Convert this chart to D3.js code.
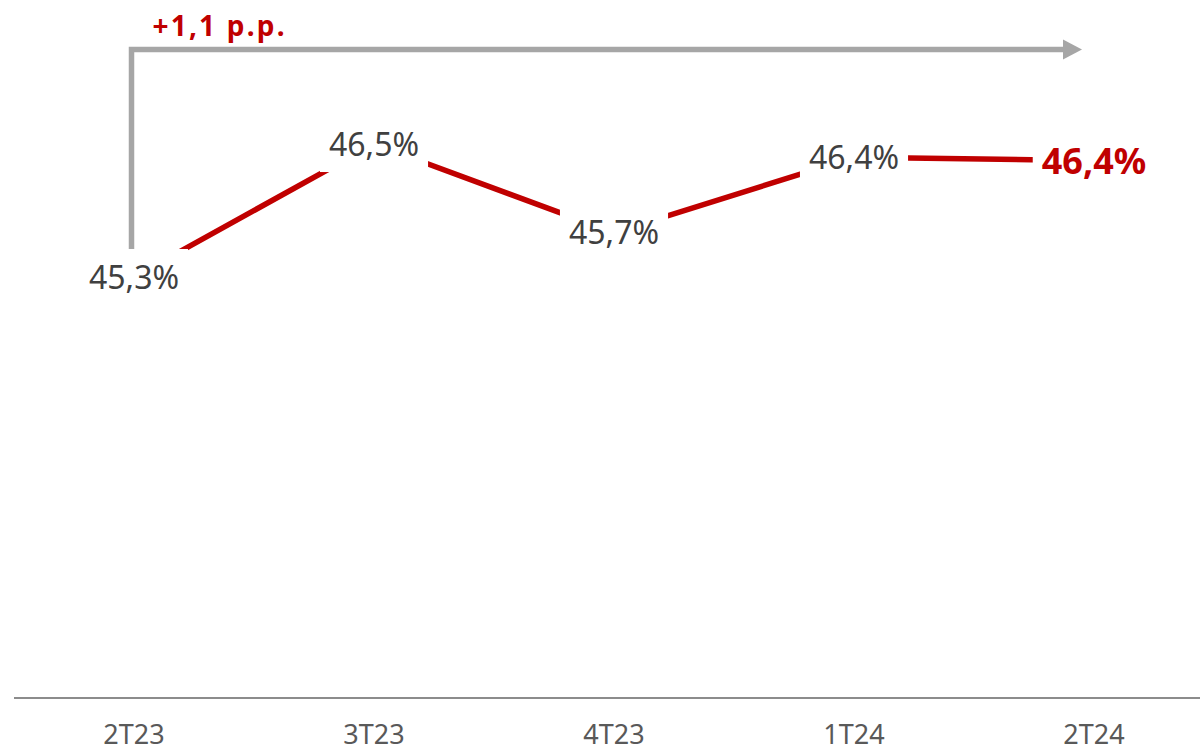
<!DOCTYPE html>
<html>
<head>
<meta charset="utf-8">
<script src="https://cdn.jsdelivr.net/npm/d3@7"></script>
<style>
  html, body { margin: 0; padding: 0; background: #fff; }
  svg { display: block; }
</style>
</head>
<body>
<svg id="chart" width="1200" height="753"></svg>
<script>
const categories = ["2T23", "3T23", "4T23", "1T24", "2T24"];
const values = [45.3, 46.5, 45.7, 46.38, 46.35];
const labels = ["45,3%", "46,5%", "45,7%", "46,4%", "46,4%"];
const deltaLabel = "+1,1 p.p.";

const W = 1200, H = 753;
const baseY = 698;
const svg = d3.select("#chart");

const x = d3.scaleBand().domain(categories).range([14, 1214]).paddingInner(0).paddingOuter(0);
const cx = d => x(d) + x.bandwidth() / 2;
const y = d3.scaleLinear().domain([41.5, 47.8]).range([baseY, 0]);

// axis
const axis = d3.axisBottom(x).tickSize(0).tickPadding(0);
const gAxis = svg.append("g").attr("transform", `translate(0,${baseY})`).call(axis);
gAxis.select(".domain").attr("stroke", "#8c8c8c").attr("stroke-width", 2)
  .attr("d", `M14,0H1200`);
gAxis.selectAll(".tick text")
  .attr("y", 46).attr("dy", 0)
  .attr("font-family", "'Noto Sans', sans-serif")
  .attr("font-size", 27)
  .attr("fill", "#595959");

// annotation bracket arrow
const ax0 = cx(categories[0]) - 2.5;
const ax1 = cx(categories[categories.length - 1]) - 31;
const topY = 49.5;
svg.append("path")
  .attr("d", `M${ax0},${y(values[0])}V${topY}H${ax1}`)
  .attr("fill", "none").attr("stroke", "#a6a6a6").attr("stroke-width", 5.5);
svg.append("path")
  .attr("d", `M${ax1},${topY - 10}L${ax1 + 19},${topY}L${ax1},${topY + 10}Z`)
  .attr("fill", "#a6a6a6");
svg.append("text")
  .attr("x", ax0 + 21).attr("y", 36)
  .attr("font-family", "'Noto Sans', sans-serif")
  .attr("font-weight", "bold")
  .attr("font-size", 28)
  .attr("fill", "#c00000")
  .attr("textLength", 132).attr("lengthAdjust", "spacing")
  .text(deltaLabel);

// line
const line = d3.line().x((d, i) => cx(categories[i])).y(d => y(d));
svg.append("path").datum(values)
  .attr("d", line)
  .attr("fill", "none").attr("stroke", "#c00000").attr("stroke-width", 5.5)
  .attr("stroke-linejoin", "round");

// labels with white boxes
const lg = svg.append("g");
values.forEach((v, i) => {
  const last = i === values.length - 1;
  const g = lg.append("g");
  const rect = g.append("rect").attr("fill", "#fff");
  const t = g.append("text")
    .attr("x", cx(categories[i]))
    .attr("y", y(v))
    .attr("dy", "0.36em")
    .attr("text-anchor", "middle")
    .attr("font-family", "'Noto Sans', sans-serif")
    .attr("font-size", last ? 36 : 32)
    .attr("font-weight", last ? "bold" : "normal")
    .attr("fill", last ? "#c00000" : "#404040")
    .text(labels[i]);
  const bb = t.node().getBBox();
  rect.attr("x", bb.x - 9).attr("width", bb.width + 18)
      .attr("y", y(v) - 28).attr("height", 56);
});
</script>
</body>
</html>
